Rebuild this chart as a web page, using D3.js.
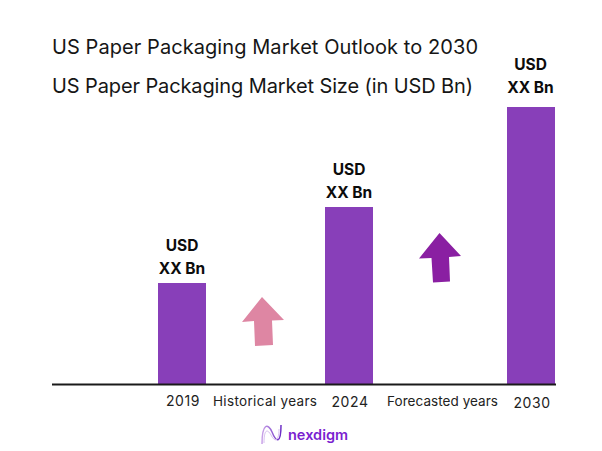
<!DOCTYPE html>
<html><head><meta charset="utf-8">
<script src="https://cdn.jsdelivr.net/npm/d3@7/dist/d3.min.js"></script>
<style>html,body{margin:0;padding:0;background:#fff}svg{display:block}text{font-family:Inter,"DejaVu Sans",sans-serif}</style>
</head><body><svg id="c" width="602" height="451"></svg>
<script>
const categories=["2019","2024","2030"];
const barValues=[101,177,277];
const barLabelTop=["USD","USD","USD"];
const barLabelBottom=["XX Bn","XX Bn","XX Bn"];
const periods=["Historical years","Forecasted years"];
const titles=["US Paper Packaging Market Outlook to 2030","US Paper Packaging Market Size (in USD Bn)"];
const svg=d3.select("#c");
const y=d3.scaleLinear().domain([0,277]).range([384,107]);
const x=d3.scaleOrdinal().domain(categories).range([182,349,531]);
const bw=48;
svg.append("g").selectAll("rect").data(categories).join("rect")
 .attr("x",d=>x(d)-bw/2).attr("width",bw)
 .attr("y",(d,i)=>y(barValues[i])).attr("height",(d,i)=>y(0)-y(barValues[i]))
 .attr("fill","#883fb9");
svg.append("line").attr("x1",52).attr("x2",556).attr("y1",384.5).attr("y2",384.5).attr("stroke","#1a1a1a").attr("stroke-width",2);
svg.selectAll(".t").data(titles).join("text").attr("class","t")
 .attr("x",52).attr("y",(d,i)=>[54,93][i]).attr("font-size",20).attr("fill","#161616")
 .attr("textLength",(d,i)=>[426,421][i]).text(d=>d);
const lab=svg.append("g").attr("text-anchor","middle").attr("font-weight",700).attr("font-size",15.5).attr("fill","#0c0c0c");
categories.forEach((c,i)=>{
 const top=y(barValues[i]);
 const off=c==="2030"?[37,14]:[32,9];
 lab.append("text").attr("x",x(c)+(c==="2030"?-0.5:0)).attr("y",top-off[0]).text(barLabelTop[i]);
 lab.append("text").attr("x",x(c)+(c==="2030"?-0.5:0)).attr("y",top-off[1]).text(barLabelBottom[i]);
});
const yearY={"2019":406,"2024":407,"2030":408};
svg.append("g").selectAll("text").data(categories).join("text")
 .attr("x",d=>x(d)+1).attr("y",d=>yearY[d]).attr("text-anchor","middle").attr("font-size",14).attr("letter-spacing",0.6).attr("fill","#222").text(d=>d);
svg.selectAll(".p").data(periods).join("text").attr("class","p")
 .attr("x",(d,i)=>[213,387][i]).attr("y",406).attr("font-size",13.5).attr("fill","#222")
 .attr("textLength",(d,i)=>[104,111][i]).text(d=>d);
const arrow=d3.line();
svg.append("path").attr("fill","#de86a3").attr("d",arrow([[262,297],[284,320],[272,320.5],[273,345],[255,346],[254,321],[242,322]])+"Z");
svg.append("path").attr("fill","#8a1fa2").attr("d",arrow([[439.5,233],[461,256],[449,257],[450,281.5],[433,282.5],[431.5,258],[419,258.5]])+"Z");
const g=d3.select("svg").append("g");
const grad=g.append("linearGradient").attr("id","lg").attr("x1",0).attr("x2",1);
grad.append("stop").attr("offset",0).attr("stop-color","#c9a2e8");
grad.append("stop").attr("offset",1).attr("stop-color","#6a2bc4");
g.append("path").attr("d","M262 444C262 423 268 423 272 432C276 442 281 445 281 425").attr("fill","none").attr("stroke","url(#lg)").attr("stroke-width",1.5);
g.append("path").attr("d","M264 443C264 430 267 428 271 435C275 443 279 441 279 429").attr("fill","none").attr("stroke","#d8bff0").attr("stroke-width",1);
g.append("text").attr("x",288).attr("y",440).attr("font-size",14.5).attr("font-weight",600).attr("fill","#7a1fd0").text("nexdigm");
</script></body></html>
